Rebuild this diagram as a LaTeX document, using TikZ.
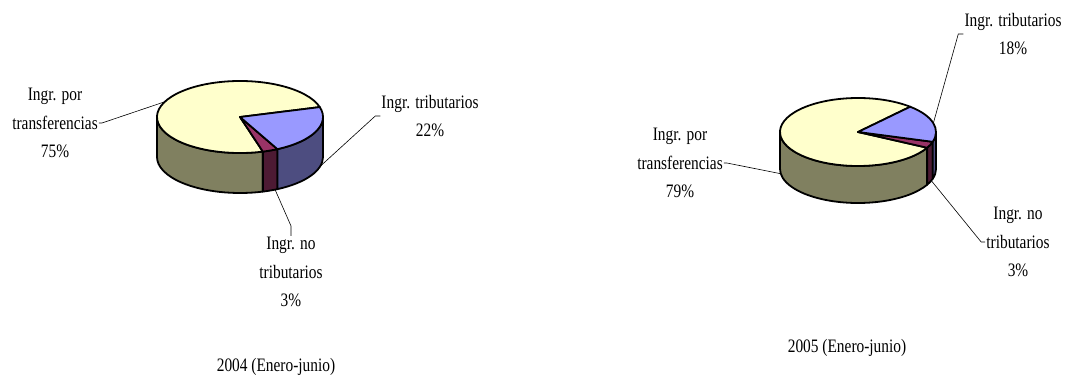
\documentclass[tikz,border=0pt]{standalone}
\usepackage{fontspec}
\setmainfont{Liberation Serif}[FakeStretch=0.81]
\usetikzlibrary{calc}

\definecolor{yeltop}{HTML}{FFFFCC}
\definecolor{yelside}{HTML}{808060}
\definecolor{blutop}{HTML}{9999FF}
\definecolor{bluside}{HTML}{4D4D80}
\definecolor{purtop}{HTML}{993366}
\definecolor{purside}{HTML}{4D1A33}

\tikzset{
  face/.style={draw=black, line width=1.8pt, line join=round},
  lbl/.style={align=center, inner sep=1pt, font=\fontsize{19}{28.5}\selectfont},
  leader/.style={draw=black, line width=0.6pt},
}

% top wedge and front wall of one slice
\newcommand{\topslice}[4]{%
  \filldraw[face, fill=#4] (#1) -- ++(#2:{\rx} and {\ry})
    arc[start angle=#2, end angle=#3, x radius=\rx, y radius=\ry] -- cycle;}
\newcommand{\sideslice}[4]{%
  \filldraw[face, fill=#4] (#1) ++(#2:{\rx} and {\ry})
    arc[start angle=#2, end angle=#3, x radius=\rx, y radius=\ry] -- ++(0,-\dep)
    arc[start angle=#3, end angle=#2, x radius=\rx, y radius=\ry] -- cycle;}

\begin{document}
\begin{tikzpicture}[x=1pt, y=1pt]
  \useasboundingbox (0,0) rectangle (1070,-377);

  % 2004 pie
  \def\rx{83pt}\def\ry{36pt}\def\dep{40}
  \coordinate (c1) at (240,-117);
  \foreach \a/\b/\col in {180/286/yelside, 286/296.8/purside, 296.8/360/bluside}
    \sideslice{c1}{\a}{\b}{\col};
  \foreach \a/\b/\col in {16/286/yeltop, 286/296.8/purtop, 296.8/376/blutop}
    \topslice{c1}{\a}{\b}{\col};
  \coordinate (p1y) at ($(c1)+(155:{\rx} and {\ry})$);
  \coordinate (p1b) at ($(c1)+(0,-\dep)+(-15:{\rx} and {\ry})$);
  \coordinate (p1p) at ($(c1)+(0,-\dep)+(-65:{\rx} and {\ry})$);

  % 2005 pie
  \def\rx{78pt}\def\ry{34pt}\def\dep{37}
  \coordinate (c2) at (858,-132);
  \foreach \a/\b/\col in {180/332.4/yelside, 332.4/343.2/purside, 343.2/360/bluside}
    \sideslice{c2}{\a}{\b}{\col};
  \foreach \a/\b/\col in {48/332.4/yeltop, 332.4/343.2/purtop, 343.2/408/blutop}
    \topslice{c2}{\a}{\b}{\col};
  \coordinate (p2y) at ($(c2)+(0,-\dep)+(188:{\rx} and {\ry})$);
  \coordinate (p2b) at ($(c2)+(15:{\rx} and {\ry})$);
  \coordinate (p2p) at ($(c2)+(0,-\dep)+(-20:{\rx} and {\ry})$);

  % labels
  \node[lbl] (trf1) at (55,-123) {Ingr. por\\transferencias\\75\%};
  \node[lbl] (trb1) at (430,-116) {Ingr. tributarios\\22\%};
  \node[lbl] (ntr1) at (291,-272) {Ingr. no\\tributarios\\3\%};
  \node[lbl] (cap1) at (276,-367) {2004 (Enero-junio)};
  \node[lbl] (trf2) at (680,-163) {Ingr. por\\transferencias\\79\%};
  \node[lbl] (trb2) at (1013,-34) {Ingr. tributarios\\18\%};
  \node[lbl] (ntr2) at (1018,-242) {Ingr. no\\tributarios\\3\%};
  \node[lbl] (cap2) at (847,-348) {2005 (Enero-junio)};

  % leader lines
  \draw[leader] (trf1.east) -- ++(3,0) -- (p1y);
  \draw[leader] (trb1.west) -- ++(-5,0) -- (p1b);
  \draw[leader] (ntr1.north) -- ++(0,10) -- (p1p);
  \draw[leader] (trf2.east) -- ++(3,0) -- (p2y);
  \draw[leader] (trb2.west) -- ++(-5,0) -- (p2b);
  \draw[leader] (ntr2.west) -- ++(-4,0) -- (p2p);
\end{tikzpicture}
\end{document}
